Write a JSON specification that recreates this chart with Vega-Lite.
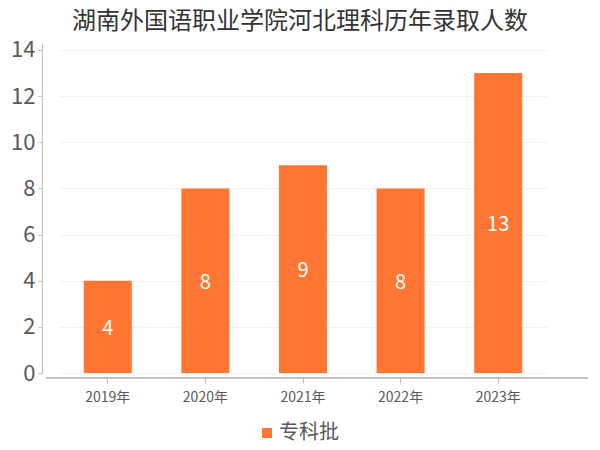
{
  "$schema": "https://vega.github.io/schema/vega-lite/v6.json",
  "autosize": "none",
  "width": 542,
  "height": 329,
  "padding": {"left": 46, "top": 44, "right": 12, "bottom": 77},
  "background": "white",
  "config": {
    "font": "Noto Sans CJK SC",
    "view": {"stroke": null}
  },
  "title": {
    "text": "湖南外国语职业学院河北理科历年录取人数",
    "fontSize": 24,
    "fontWeight": "normal",
    "color": "#333333",
    "anchor": "middle",
    "dx": -17,
    "offset": 5
  },
  "data": {
    "values": [
      {"year": "2019年", "n": 4, "batch": "专科批"},
      {"year": "2020年", "n": 8, "batch": "专科批"},
      {"year": "2021年", "n": 9, "batch": "专科批"},
      {"year": "2022年", "n": 8, "batch": "专科批"},
      {"year": "2023年", "n": 13, "batch": "专科批"}
    ]
  },
  "encoding": {
    "x": {
      "field": "year",
      "type": "nominal",
      "sort": null,
      "scale": {"range": [13, 501], "paddingInner": 0.508, "paddingOuter": 0.254},
      "axis": {
        "title": null,
        "labelAngle": 0,
        "labelFontSize": 14,
        "labelColor": "#595959",
        "labelPadding": 7,
        "domain": false,
        "tickColor": "#bfbfbf",
        "tickSize": 5,
        "offset": 5,
        "grid": false
      }
    }
  },
  "layer": [
    {
      "mark": {"type": "bar", "color": "#fe7631"},
      "encoding": {
        "y": {
          "field": "n",
          "type": "quantitative",
          "scale": {"domain": [0, 14.26], "nice": false},
          "axis": {
            "title": null,
            "values": [0, 2, 4, 6, 8, 10, 12, 14],
            "labelFontSize": 22,
            "labelColor": "#595959",
            "labelPadding": 3,
            "domainColor": "#bfbfbf",
            "tickColor": "#bfbfbf",
            "tickSize": 4,
            "offset": 4,
            "gridColor": "#f2f2f2"
          }
        },
        "color": {
          "field": "batch",
          "type": "nominal",
          "scale": {"range": ["#fe7631"]},
          "legend": {
            "title": null,
            "orient": "none",
            "legendX": 211,
            "legendY": 379,
            "symbolType": "square",
            "symbolSize": 100,
            "labelFontSize": 20,
            "labelColor": "#595959",
            "labelOffset": 2
          }
        }
      }
    },
    {
      "transform": [{"calculate": "datum.n / 2", "as": "mid"}],
      "mark": {"type": "text", "color": "white", "fontSize": 20, "baseline": "middle", "dy": 2},
      "encoding": {
        "y": {"field": "mid", "type": "quantitative"},
        "text": {"field": "n", "type": "quantitative"}
      }
    },
    {
      "mark": {"type": "rule", "color": "#bfbfbf", "yOffset": 5},
      "encoding": {"y": {"datum": 0}, "x": null}
    }
  ]
}
